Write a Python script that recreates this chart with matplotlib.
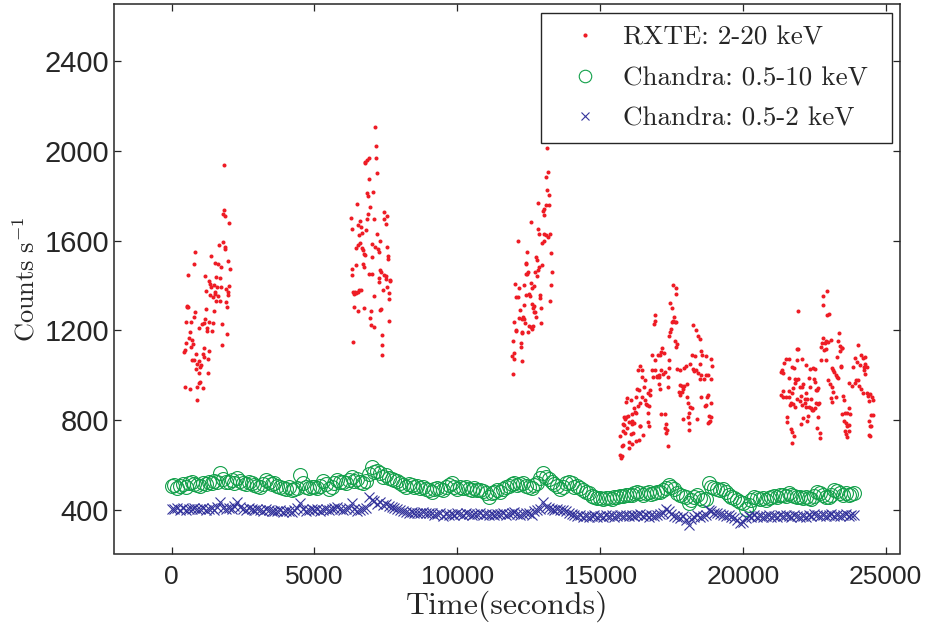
import numpy as np
import matplotlib
matplotlib.use("Agg")
import matplotlib.pyplot as plt

plt.rcParams['mathtext.fontset'] = 'cm'
plt.rcParams['axes.unicode_minus'] = False

# ---------------- RXTE 2-20 keV (time s, counts/s) ----------------
rxte_t1 = [1817, 1829, 1782, 1852, 2015, 1806, 1643, 1852, 1876, 815, 1386, 1969, 792, 1503, 1631, 1736,
           2027, 582, 1177, 1549, 1689, 1316, 1340, 1363, 1480, 1584, 1713, 1899, 2015, 1188, 1514, 1503,
           1980, 1328, 1433, 1608, 1957, 1549, 1689, 1911, 1922, 1480, 1212, 536, 582, 536, 827, 780,
           513, 676, 1165, 1060, 1142, 1293, 1433, 1771, 955, 1223, 1410, 1246, 652, 1934, 617, 711,
           501, 746, 664, 1747, 478, 443, 1130, 1293, 839, 1095, 1130, 1258, 711, 769, 967, 874,
           1025, 1002, 850, 967, 1281, 955, 1002, 885, 1095, 466, 629, 897]
rxte_c1 = [1938, 1736, 1719, 1710, 1677, 1595, 1582, 1570, 1561, 1548, 1532, 1511, 1497, 1502, 1496, 1484,
           1475, 1447, 1443, 1440, 1435, 1422, 1407, 1395, 1404, 1392, 1395, 1386, 1398, 1376, 1373, 1362,
           1370, 1356, 1351, 1353, 1356, 1330, 1333, 1327, 1306, 1287, 1297, 1310, 1306, 1303, 1281, 1262,
           1238, 1238, 1251, 1229, 1232, 1238, 1232, 1229, 1210, 1210, 1198, 1196, 1192, 1184, 1167, 1158,
           1144, 1140, 1128, 1134, 1113, 1103, 1123, 1107, 1095, 1094, 1080, 1073, 1070, 1069, 1063, 1052,
           1048, 1037, 1030, 1012, 1009, 968, 969, 950, 945, 950, 938, 889]

rxte_t2 = [7128, 7163, 6907, 6837, 6779, 6755, 7140, 7187, 6895, 6837, 6884, 7047, 6499, 6930, 6289, 6860,
           7443, 7548, 7420, 7070, 6849, 6592, 6511, 6616, 7489, 6802, 6324, 6662, 6569, 7187, 7280, 6604,
           6522, 6651, 6464, 6697, 7012, 7105, 7210, 7268, 7548, 6721, 6755, 7023, 7571, 7583, 6453, 6709,
           6721, 6313, 6301, 6919, 7000, 7280, 7338, 7420, 7489, 7245, 7256, 7513, 7641, 7629, 7524, 7396,
           7594, 7618, 6348, 6418, 6394, 6511, 6569, 6639, 6464, 7082, 6371, 6522, 6732, 6988, 7291, 7315,
           6954, 6977, 7093, 7606, 7373, 6359, 7361, 7361]
rxte_c2 = [2106, 2020, 1967, 1959, 1949, 1945, 1965, 1899, 1875, 1810, 1799, 1815, 1761, 1747, 1701, 1716,
           1728, 1709, 1697, 1694, 1694, 1688, 1669, 1658, 1672, 1646, 1651, 1633, 1624, 1627, 1600, 1591,
           1578, 1568, 1566, 1559, 1585, 1572, 1562, 1550, 1571, 1541, 1535, 1525, 1529, 1519, 1493, 1496,
           1482, 1473, 1447, 1453, 1453, 1471, 1459, 1447, 1443, 1433, 1416, 1427, 1425, 1418, 1393, 1378,
           1366, 1339, 1370, 1373, 1363, 1373, 1378, 1379, 1366, 1352, 1303, 1286, 1302, 1286, 1289, 1295,
           1255, 1225, 1217, 1241, 1180, 1148, 1136, 1093]

rxte_t3 = [13127, 13173, 13115, 13138, 13220, 12835, 13103, 13196, 13033, 12987, 13022, 12579, 12812, 12870,
           13033, 13092, 13161, 13231, 13045, 12975, 12136, 13278, 12439, 12416, 12416, 12742, 12800, 12952,
           12870, 12812, 12789, 12707, 12486, 12439, 12393, 13301, 12031, 12160, 12334, 12567, 12614, 12695,
           13266, 12066, 12113, 12393, 12509, 12556, 12905, 12882, 13255, 12323, 12626, 12695, 12637, 12917,
           12672, 12730, 12183, 12276, 12299, 12346, 12148, 12765, 12358, 11973, 12940, 12521, 12591, 12661,
           12474, 12626, 12264, 12253, 12043, 12066, 11950, 12218, 12229, 11973, 11927, 11996, 12253, 11950]
rxte_c3 = [2011, 1903, 1882, 1823, 1801, 1768, 1759, 1759, 1740, 1732, 1715, 1683, 1651, 1628,
           1630, 1623, 1615, 1631, 1600, 1587, 1597, 1544, 1551, 1502, 1496, 1526, 1513, 1489,
           1482, 1470, 1443, 1458, 1461, 1453, 1450, 1462, 1407, 1391, 1404, 1409, 1387, 1398,
           1403, 1351, 1347, 1357, 1360, 1352, 1358, 1344, 1330, 1315, 1317, 1311, 1298, 1298,
           1281, 1284, 1290, 1253, 1260, 1249, 1256, 1258, 1232, 1238, 1232, 1219, 1216, 1220,
           1192, 1206, 1194, 1189, 1200, 1197, 1151, 1146, 1127, 1099, 1088, 1072, 1065, 1005]

rxte_t4 = [17540, 17669, 17645, 17459, 17505, 16923, 16923, 16876, 17575, 17552, 17622, 17529, 17669, 17494,
           17459, 17424, 18239, 18356, 18437, 18507, 17622, 17692, 17669, 17179, 17144, 17086, 16830, 17039,
           16911, 17226, 17401, 18531, 18577, 18694, 18216, 18321, 18892, 16410, 16480, 16340, 16457, 16562,
           16806, 16935, 17144, 17191, 17272, 17424, 17366, 17063, 16981, 17074, 16993, 16865, 17692, 17785,
           17995, 17925, 18146, 18484, 18239, 18286, 18367, 18426, 18531, 18484, 18624, 18717, 18787, 18868,
           18915, 17389, 17109, 17063, 16737, 16690, 16760, 16550, 16305, 16352, 16271, 16457, 17785, 17878,
           17925, 18041, 17762, 17808, 17866, 17901, 18041, 18088, 18542, 18729, 18775, 18694, 18868, 15933,
           15909, 16084, 16189, 16329, 16410, 16562, 16597, 16643, 16713, 17121, 17261, 16678, 18135, 18204,
           18111, 17890, 18065, 18391, 18670, 18798, 18868, 18833, 18775, 18822, 15828, 15898, 15886, 15979,
           16107, 16224, 16271, 16119, 16014, 15805, 15851, 15944, 16107, 16189, 16387, 17319, 17284, 17354,
           17307, 16678, 16702, 16399, 18100, 18111, 15805, 15863, 16096, 16166, 16515, 16271, 16375, 16026,
           16026, 16107, 15711, 15781, 15816, 15711, 15758, 15735, 17366]
rxte_c4 = [1402, 1391, 1360, 1320, 1301, 1268, 1241, 1230, 1261, 1244, 1237, 1236, 1237, 1206,
           1191, 1176, 1224, 1201, 1176, 1161, 1155, 1138, 1126, 1120, 1106, 1092, 1092, 1090,
           1069, 1099, 1069, 1109, 1093, 1086, 1093, 1087, 1075, 1040, 1026, 1022, 994, 980,
           1025, 1023, 1022, 1007, 1016, 1032, 995, 1004, 998, 991, 991, 994, 1029, 1023,
           1040, 1031, 1049, 1050, 1029, 1020, 1025, 1013, 1001, 986, 985, 1000, 1001, 983,
           1043, 948, 939, 962, 933, 924, 913, 948, 940, 933, 905, 906, 958, 951,
           954, 962, 928, 914, 927, 939, 905, 879, 905, 905, 914, 869, 878, 900,
           882, 891, 857, 862, 879, 890, 872, 869, 863, 827, 829, 832, 859, 854,
           835, 807, 817, 807, 862, 821, 817, 799, 787, 795, 817, 817, 805, 821,
           827, 836, 832, 799, 792, 783, 781, 764, 783, 790, 775, 784, 764, 758,
           743, 795, 773, 774, 787, 759, 752, 746, 740, 743, 734, 710, 715, 703,
           678, 695, 731, 686, 691, 646, 642, 632, 688]

rxte_t5 = [22945, 22794, 22805, 21931, 22957, 23027, 23353, 22817, 22770, 22863, 22747, 22910, 22992, 23073,
           22828, 22922, 23329, 23388, 23458, 23411, 23481, 21885, 21943, 24028, 24122, 24203, 24261, 23935,
           24005, 23854, 24261, 24226, 24331, 24238, 24110, 24285, 21524, 21454, 21629, 21897, 22083, 21722,
           21792, 21372, 21349, 21419, 22724, 22910, 23294, 23423, 23446, 23120, 23166, 23201, 23248, 23329,
           23283, 22223, 22467, 22514, 22339, 21605, 21815, 21850, 21943, 21838, 21990, 22118, 22316, 22502,
           22537, 22630, 22549, 22595, 22083, 22351, 22223, 22980, 23038, 23120, 23166, 23085, 23120, 23260,
           23516, 23551, 23726, 23807, 23959, 24075, 24028, 23912, 24122, 24192, 24331, 24378, 24436, 24518,
           24541, 24401, 21395, 21337, 21395, 21500, 21617, 21768, 21722, 21605, 21698, 21652, 21745, 21838,
           21885, 22036, 22176, 22164, 22246, 22386, 22001, 22083, 22199, 22386, 22421, 22561, 22630, 22677,
           22316, 22456, 22514, 23469, 23562, 23702, 23656, 23737, 23539, 23597, 23632, 23702, 23562, 23597,
           23656, 23726, 24494, 24553, 24413, 24459, 24483, 24424, 24448, 21535, 21547, 21675, 21710, 21780,
           21722, 22106, 22048, 22281, 22246, 22630, 22595, 22689, 22689]
rxte_c5 = [1376, 1354, 1312, 1288, 1268, 1271, 1189, 1165, 1146, 1145, 1128, 1153, 1150, 1156,
           1113, 1119, 1153, 1133, 1124, 1110, 1121, 1118, 1116, 1136, 1093, 1076, 1081, 1078,
           1061, 1039, 1050, 1038, 1036, 1024, 1047, 1005, 1072, 1057, 1073, 1069, 1072, 1036,
           1032, 1024, 1015, 1012, 1070, 1067, 1082, 1044, 1039, 1035, 1024, 1015, 1002, 987,
           995, 1045, 1035, 1029, 1027, 990, 983, 980, 983, 965, 949, 960, 987, 983,
           972, 943, 935, 935, 949, 947, 920, 980, 960, 947, 926, 901, 883, 904,
           909, 891, 965, 953, 980, 953, 980, 965, 938, 922, 923, 909, 917, 903,
           891, 888, 932, 913, 906, 903, 903, 946, 923, 932, 876, 868, 873, 861,
           897, 909, 895, 879, 895, 897, 885, 870, 861, 855, 848, 876, 873, 877,
           861, 846, 854, 827, 831, 854, 831, 830, 796, 787, 776, 779, 754, 738,
           728, 753, 824, 824, 799, 775, 775, 736, 732, 814, 791, 760, 747, 729,
           701, 812, 784, 820, 796, 814, 768, 742, 722]

# ---------------- Chandra light curves (100 s bins) ----------------
chandra_t0 = 0
chandra_dt = 100
chandra_broad = [
    508, 512, 500, 506, 515, 505, 520, 527, 518, 512,
    510, 522, 515, 527, 520, 530, 525, 567, 540, 528,
    527, 535, 520, 542, 530, 520, 515, 527, 522, 512,
    508, 505, 518, 534, 525, 515, 520, 510, 505, 500,
    497, 505, 490, 495, 500, 557, 520, 505, 498, 505,
    505, 500, 510, 531, 515, 497, 505, 520, 534, 525,
    527, 520, 535, 549, 530, 540, 527, 520, 530, 560,
    591, 570, 575, 564, 550, 555, 542, 540, 534, 530,
    520, 512, 505, 515, 512, 505, 510, 500, 505, 495,
    490, 483, 495, 500, 497, 490, 505, 512, 520, 505,
    497, 505, 500, 505, 495, 490, 500, 492, 490, 485,
    475, 460, 475, 483, 490, 480, 497, 505, 510, 515,
    520, 512, 518, 520, 510, 505, 500, 512, 520, 545,
    567, 550, 540, 527, 515, 510, 497, 505, 520, 527,
    520, 505, 510, 500, 490, 483, 475, 465, 460, 453,
    453, 450, 455, 453, 450, 460, 458, 462, 465, 468,
    468, 470, 475, 483, 478, 470, 475, 480, 472, 478,
    483, 480, 490, 500, 512, 505, 495, 475, 470, 465,
    460, 431, 445, 460, 470, 455, 445, 450, 520, 505,
    500, 497, 490, 495, 480, 470, 460, 453, 445, 438,
    431, 408, 425, 445, 460, 455, 450, 453, 448, 455,
    460, 465, 458, 468, 470, 462, 475, 470, 465, 460,
    460, 455, 458, 453, 450, 462, 483, 475, 468, 460,
    460, 470, 490, 485, 478, 470, 475, 468, 472, 475]
chandra_soft = [
    408, 405, 410, 402, 412, 400, 408, 404, 410, 406,
    405, 410, 402, 408, 412, 400, 415, 438, 412, 406,
    410, 404, 420, 438, 415, 408, 402, 410, 405, 400,
    408, 402, 398, 405, 400, 396, 398, 395, 400, 393,
    398, 395, 393, 400, 410, 431, 405, 398, 400, 405,
    400, 405, 398, 402, 408, 400, 404, 410, 415, 406,
    402, 408, 410, 431, 405, 398, 400, 405, 410, 460,
    445, 440, 430, 435, 423, 428, 420, 415, 410, 405,
    400, 395, 393, 390, 393, 388, 390, 386, 393, 390,
    386, 390, 380, 385, 388, 376, 383, 380, 385, 379,
    386, 383, 380, 388, 384, 379, 385, 382, 386, 380,
    382, 380, 385, 379, 384, 383, 386, 381, 385, 390,
    393, 385, 380, 382, 390, 386, 379, 395, 400, 405,
    438, 415, 410, 405, 400, 408, 402, 400, 395, 390,
    385, 379, 375, 378, 372, 376, 371, 374, 378, 372,
    375, 371, 378, 374, 379, 372, 376, 380, 374, 378,
    376, 380, 374, 378, 382, 375, 378, 372, 380, 376,
    380, 385, 390, 404, 395, 385, 375, 370, 365, 375,
    356, 334, 360, 370, 378, 372, 375, 380, 401, 395,
    390, 386, 385, 380, 375, 378, 370, 365, 358, 342,
    350, 365, 375, 370, 379, 372, 376, 370, 374, 378,
    372, 376, 370, 378, 374, 380, 375, 372, 378, 374,
    370, 376, 372, 380, 376, 385, 378, 374, 380, 376,
    378, 385, 376, 380, 374, 378, 382, 376, 380, 378]

labels = ['RXTE: 2-20 keV', 'Chandra: 0.5-10 keV', 'Chandra: 0.5-2 keV']
xticks = [0, 5000, 10000, 15000, 20000, 25000]
yticks = [400, 800, 1200, 1600, 2000, 2400]

rxte_t = np.concatenate([rxte_t1, rxte_t2, rxte_t3, rxte_t4, rxte_t5])
rxte_c = np.concatenate([rxte_c1, rxte_c2, rxte_c3, rxte_c4, rxte_c5])
chandra_t = chandra_t0 + chandra_dt * np.arange(len(chandra_broad))

fig = plt.figure(figsize=(9.29, 6.30), dpi=100)
ax_l, ax_r, ax_t, ax_b = 114.5, 900.0, 4.0, 553.5
ax = fig.add_axes([ax_l / 929, 1 - ax_b / 630, (ax_r - ax_l) / 929, (ax_b - ax_t) / 630])

red = '#ee1c25'
green = '#12a04a'
blue = '#34349c'

ax.plot(chandra_t, chandra_broad, linestyle='none', marker='o', markersize=10,
        markerfacecolor='none', markeredgecolor=green, markeredgewidth=0.8, label=labels[1], zorder=2)
ax.plot(chandra_t, chandra_soft, linestyle='none', marker='x', markersize=7,
        color=blue, markeredgewidth=0.8, label=labels[2], zorder=2)
ax.plot(rxte_t, rxte_c, linestyle='none', marker='o', markersize=2.9,
        color=red, markeredgewidth=0, label=labels[0], zorder=3)

ax.set_xlim(-2000, 25500)
ax.set_ylim(208, 2652)
ax.set_xticks(xticks)
ax.set_yticks(yticks)
ax.set_xticklabels([str(v) for v in xticks])
ax.set_yticklabels([str(v) for v in yticks])
ax.tick_params(direction='in', length=5, width=0.9, top=True, right=True, colors='#262626',
               labelcolor='#262626')
ax.tick_params(axis='x', pad=8, labelsize=19)
ax.tick_params(axis='y', pad=4, labelsize=21)
for lab in ax.get_xticklabels() + ax.get_yticklabels():
    lab.set_family(['Liberation Sans'])
for s in ax.spines.values():
    s.set_linewidth(1.1)
    s.set_color('#262626')

ax.set_xlabel('Time(seconds)', fontsize=23, family='cmr10', color='#262626', labelpad=1)
ax.set_ylabel(r'$\mathrm{Counts\ s^{-1}}$', fontsize=19, color='#262626', labelpad=3)

# legend box in axes fraction
lg_l = (541 - ax_l) / (ax_r - ax_l)
lg_r = (892 - ax_l) / (ax_r - ax_l)
lg_t = (ax_b - 13) / (ax_b - ax_t)

h, l = ax.get_legend_handles_labels()
order = [2, 0, 1]
leg = ax.legend([h[i] for i in order], [l[i] for i in order], loc='upper right',
                bbox_to_anchor=(lg_l, 0.5, lg_r - lg_l, lg_t - 0.5), mode='expand',
                borderaxespad=0, prop={'family': 'cmr10', 'size': 19.5}, fancybox=False,
                edgecolor='#262626', framealpha=1, borderpad=0.48, handlelength=2.27,
                handletextpad=0.26, labelspacing=0.6, numpoints=1)
leg.get_frame().set_linewidth(1.0)
leg.legend_handles[0].set_markersize(3)
leg.legend_handles[1].set_markersize(9)
leg.legend_handles[2].set_markersize(5.5)
for t in leg.get_texts():
    t.set_color('#262626')

fig.savefig('out.png', dpi=100)
